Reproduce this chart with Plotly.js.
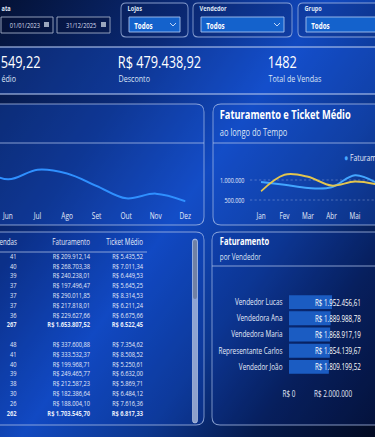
<!DOCTYPE html>
<html>
<head>
<meta charset="utf-8">
<script src="https://cdn.plot.ly/plotly-3.0.1.min.js"></script>
<style>
html,body{margin:0;padding:0;background:#061840;overflow:hidden;}
#wrap{position:relative;width:375px;height:437px;overflow:hidden;
background:
 linear-gradient(125deg,#041236 0%,#0a2a78 28%,#1149c0 48%,#0c368e 66%,#051a4c 82%,#020a22 100%);}
#chart{position:absolute;left:0;top:0;width:500px;height:437px;transform:scaleX(0.75);transform-origin:0 0;}
</style>
</head>
<body>
<div id="wrap"><div id="chart"></div></div>
<script>
// ---------- data ----------
const meses = ['Jan','Fev','Mar','Abr','Mai','Jun','Jul','Ago','Set','Out','Nov','Dez'];
const mesesEsq = ['Mai','Jun','Jul','Ago','Set','Out','Nov','Dez'];
const faturamentoMesEsq = [658, 574, 639, 613, 529, 445, 477, 426];
const mesesDir = ['Jan','Fev','Mar','Abr','Mai','Jun'];
const faturamentoMes = [950000, 880000, 800000, 820000, 1120000, 900000];
const ticketMes = [720000, 1130000, 1080000, 860000, 960000, 880000];
const vendedores = ['Vendedor Lucas','Vendedora Ana','Vendedora Maria','Representante Carlos','Vendedor João'];
const fatVendedor = [1952456.61, 1889988.78, 1868917.19, 1854139.67, 1809199.52];
const fatVendedorTxt = ['R$ 1.952.456,61','R$ 1.889.988,78','R$ 1.868.917,19','R$ 1.854.139,67','R$ 1.809.199,52'];
const tabHeader = ['endas','Faturamento','Ticket Médio'];
const vendasG1 = ['41','40','39','37','37','37','36','267'];
const fatG1 = ['R$ 209.912,14','R$ 268.703,38','R$ 240.238,01','R$ 197.496,47','R$ 290.011,85','R$ 217.818,01','R$ 229.627,66','R$ 1.653.807,52'];
const ticketG1 = ['R$ 5.435,52','R$ 7.011,34','R$ 6.449,53','R$ 5.645,25','R$ 8.314,53','R$ 6.211,24','R$ 6.675,66','R$ 6.522,45'];
const vendasG2 = ['48','41','40','39','38','30','26','262'];
const fatG2 = ['R$ 337.600,88','R$ 333.532,37','R$ 199.968,71','R$ 249.465,77','R$ 212.587,23','R$ 182.386,64','R$ 188.004,10','R$ 1.703.545,70'];
const ticketG2 = ['R$ 7.354,62','R$ 8.508,52','R$ 5.250,61','R$ 6.632,00','R$ 5.869,71','R$ 6.484,12','R$ 7.616,36','R$ 6.817,33'];
const kpiValores = ['549,22','R$ 479.438,92','1482'];
const kpiRotulos = ['édio','Desconto','Total de Vendas'];
const datas = ['01/01/2023','31/12/2025'];
const filtros = ['Lojas','Vendedor','Grupo'];
const filtroValor = ['Todos','Todos','Todos'];

// ---------- helpers ----------
const W=375,H=437;           // final (displayed) pixel grid
const PX=p=>p/W, PY=p=>1-p/H;
function rr(x0,y0,x1,y1,r){
  const a=v=>PX(v).toFixed(5), b=v=>PY(v).toFixed(5);
  return `M${a(x0+r)},${b(y0)} L${a(x1-r)},${b(y0)} Q${a(x1)},${b(y0)} ${a(x1)},${b(y0+r)} L${a(x1)},${b(y1-r)} Q${a(x1)},${b(y1)} ${a(x1-r)},${b(y1)} L${a(x0+r)},${b(y1)} Q${a(x0)},${b(y1)} ${a(x0)},${b(y1-r)} L${a(x0)},${b(y0+r)} Q${a(x0)},${b(y0)} ${a(x0+r)},${b(y0)} Z`;
}
function pshape(path,fill,line,lw){return {type:'path',xref:'paper',yref:'paper',path:path,fillcolor:fill,line:{color:line,width:lw===undefined?1.2:lw},layer:'below'};}
function hline(x0,x1,y,color,w){return {type:'line',xref:'paper',yref:'paper',x0:PX(x0),x1:PX(x1),y0:PY(y),y1:PY(y),line:{color:color,width:w||1.2},layer:'below'};}
function rect(x0,y0,x1,y1,fill,line,lw){return {type:'rect',xref:'paper',yref:'paper',x0:PX(x0),x1:PX(x1),y0:PY(y1),y1:PY(y0),fillcolor:fill,line:{color:line,width:lw===undefined?1:lw},layer:'below'};}
const FONT='"Open Sans", "Noto Sans", sans-serif';
function txt(x,y,t,size,color,bold,xa){return {xref:'paper',yref:'paper',x:PX(x),y:PY(y),text:bold?'<b>'+t+'</b>':t,showarrow:false,xanchor:xa||'left',yanchor:'middle',font:{family:FONT,size:size,color:color||'#ffffff'}};}

const border='rgba(175,195,235,0.75)';
const shapes=[];
shapes.push(rect(-5,47,380,94,'rgba(30,95,235,0.28)','rgba(0,0,0,0)',0));
shapes.push(hline(0,375,47,border,1.5));
shapes.push(hline(0,375,94,border,1.5));
shapes.push(pshape(rr(121,3,188,37,5),'rgba(10,30,90,0.25)',border));
shapes.push(pshape(rr(193,3,292,37,5),'rgba(10,30,90,0.25)',border));
shapes.push(pshape(rr(298,3,395,37,5),'rgba(10,30,90,0.25)',border));
shapes.push(rect(129,17,180,32,'#1462cc','#a8c4f0',1));
shapes.push(rect(201,17,284,32,'#1462cc','#a8c4f0',1));
shapes.push(rect(306,17,395,32,'#1462cc','#a8c4f0',1));
[[173,23],[277,23]].forEach(c=>{shapes.push({type:'path',xref:'paper',yref:'paper',path:`M${PX(c[0]-3)},${PY(c[1])} L${PX(c[0])},${PY(c[1]+3)} L${PX(c[0]+3)},${PY(c[1])}`,line:{color:'#dbe6fb',width:1}});});
shapes.push(rect(1,17,53,33,'rgba(5,15,50,0.35)','#a3afc8',1));
shapes.push(rect(57,17,110,33,'rgba(5,15,50,0.35)','#a3afc8',1));
shapes.push(rect(44,22,49,27,'#9aa6bd','rgba(0,0,0,0)',0));
shapes.push(rect(101,22,106,27,'#9aa6bd','rgba(0,0,0,0)',0));
shapes.push(pshape(rr(-10,104,204,225,8),'rgba(25,85,215,0.30)',border));
shapes.push(pshape(rr(213,104,395,225,8),'rgba(25,85,215,0.30)',border));
shapes.push(hline(-10,204,143,border,1.2));
shapes.push(hline(213,375,143,border,1.2));
shapes.push(pshape(rr(-10,232,204,425,8),'rgba(20,75,205,0.22)',border));
shapes.push(pshape(rr(212,232,395,425,8),'rgba(15,55,170,0.18)',border));
shapes.push(hline(212,375,266,border,1.2));
shapes.push(hline(0,147,252,'rgba(190,205,235,0.8)',1));
shapes.push(pshape(rr(192.5,239,197.5,423,2.5),'rgba(185,198,225,0.75)','rgba(210,220,240,0.8)',0.8));
shapes.push(pshape(rr(193,240,197,299,2),'rgba(110,125,160,0.9)','rgba(0,0,0,0)',0));

const ann=[];
ann.push(txt(0,8,'ata',7.5,'#dfe6f5',true));
ann.push(txt(25,25,datas[0],7.6,'#d5dced',false,'center'));
ann.push(txt(81,25,datas[1],7.6,'#d5dced',false,'center'));
[126,198,303].forEach((x,i)=>ann.push(txt(x,8,filtros[i],7.5,'#dfe6f5',true)));
[133,205,310].forEach((x,i)=>ann.push(txt(x,25,filtroValor[i],8.3,'#ffffff',true)));
[0,117,267].forEach((x,i)=>{ann.push(txt(x-1,61.5,kpiValores[i],17,'#ffffff'));ann.push(txt(x,79,kpiRotulos[i],9.5,'#dde5f5'));});
ann.push(txt(218,114,'Faturamento e Ticket Médio',12.4,'#ffffff',true));
ann.push(txt(218,132,'ao longo do Tempo',10,'#dde5f5'));
ann.push(txt(343,158,'<span style="color:#4aa8ff">●</span> Faturamento',9,'#e6eefc'));
ann.push(txt(218,241,'Faturamento',10,'#ffffff',true));
ann.push(txt(218,256,'por Vendedor',8.5,'#dde5f5'));
vendedores.forEach((v,i)=>ann.push({xref:'paper',yref:'y3',x:PX(362),y:v,text:fatVendedorTxt[i],showarrow:false,xanchor:'right',yanchor:'middle',font:{family:FONT,size:8.3,color:'#ffffff'}}));

// table rows: group 1 rows 0..7, blank row 8, group 2 rows 9..16
const rowsG1 = vendasG1.map((_,i)=>i);
const rowsG2 = vendasG2.map((_,i)=>i+vendasG1.length+1);
const linhas = rowsG1.concat(rowsG2);
const nTot = vendasG1.length-1;
const boldLast = arr=>arr.map((v,i)=>i===nTot?'<b>'+v+'</b>':v);
const colVendas = boldLast(vendasG1).concat(boldLast(vendasG2));
const colFat = boldLast(fatG1).concat(boldLast(fatG2));
const colTicket = boldLast(ticketG1).concat(boldLast(ticketG2));
const colX = [16.5, 90, 143];
const tabFont = {family:FONT,size:7.6,color:'#e3eaf8'};
function textCol(xpos,vals,rows){return {type:'scatter',mode:'text',x:vals.map(()=>xpos),y:rows,text:vals,textposition:'middle left',textfont:tabFont,xaxis:'x4',yaxis:'y4',cliponaxis:false,hoverinfo:'skip'};}

const traces=[
 {type:'scatter',mode:'lines',x:mesesEsq,y:faturamentoMesEsq,xaxis:'x',yaxis:'y',line:{color:'#2f90ff',width:2,shape:'spline',smoothing:1},hoverinfo:'skip'},
 {type:'scatter',mode:'lines',x:mesesDir,y:faturamentoMes,xaxis:'x2',yaxis:'y2',line:{color:'#43a6ff',width:2,shape:'spline',smoothing:1},hoverinfo:'skip'},
 {type:'scatter',mode:'lines',x:mesesDir,y:ticketMes,xaxis:'x2',yaxis:'y2',line:{color:'#e3c54e',width:2,shape:'spline',smoothing:1},hoverinfo:'skip'},
 {type:'bar',orientation:'h',x:fatVendedor,y:vendedores,xaxis:'x3',yaxis:'y3',marker:{color:'#1b5cc2'},hoverinfo:'skip'},
 textCol(colX[0],colVendas,linhas),
 textCol(colX[1],colFat,linhas),
 textCol(colX[2],colTicket,linhas),
 {type:'scatter',mode:'text',x:colX.map((v,i)=>i===0?v+0.5:v),y:tabHeader.map(()=>-1.45),text:tabHeader,textposition:'middle left',textfont:{family:FONT,size:8.3,color:'#e3eaf8'},xaxis:'x4',yaxis:'y4',cliponaxis:false,hoverinfo:'skip'}
];

const hid={visible:false,fixedrange:true};
const layout={
 width:500,height:H,margin:{l:0,r:0,t:0,b:0},paper_bgcolor:'rgba(0,0,0,0)',plot_bgcolor:'rgba(0,0,0,0)',
 showlegend:false,separators:',.',
 xaxis:{domain:[0,PX(204)],type:'category',categoryarray:meses,range:[4.731,11.633],showgrid:false,zeroline:false,showline:false,ticks:'outside',ticklen:3,tickcolor:'rgba(0,0,0,0)',tickfont:{family:FONT,size:8.7,color:'#e3eaf8'},fixedrange:true},
 yaxis:{domain:[PY(205),PY(146)],range:[400,800],visible:false,fixedrange:true},
 xaxis2:{domain:[PX(250),1],anchor:'y2',type:'category',categoryarray:meses,range:[-0.47,4.85],showgrid:false,zeroline:false,showline:false,ticks:'outside',ticklen:3,tickcolor:'rgba(0,0,0,0)',tickfont:{family:FONT,size:8.5,color:'#e3eaf8'},fixedrange:true},
 yaxis2:{domain:[PY(205),PY(150)],anchor:'x2',range:[375000,1750000],tickvals:[500000,1000000],tickformat:',d',showgrid:true,gridcolor:'rgba(220,230,255,0.35)',griddash:'dot',gridwidth:1,zeroline:false,showline:false,ticks:'outside',ticklen:5,tickcolor:'rgba(0,0,0,0)',tickfont:{family:FONT,size:7.2,color:'#e3eaf8'},fixedrange:true},
 xaxis3:{domain:[PX(289),1],anchor:'y3',range:[0,3905000],tickvals:[0,2000000],ticktext:['R$ 0','R$ 2.000.000'],showgrid:false,zeroline:false,showline:false,ticks:'outside',ticklen:11,tickcolor:'rgba(0,0,0,0)',tickfont:{family:FONT,size:8.5,color:'#e3eaf8'},fixedrange:true},
 yaxis3:{domain:[PY(375),PY(294)],anchor:'x3',type:'category',categoryarray:vendedores,autorange:'reversed',showgrid:false,zeroline:false,showline:false,ticks:'outside',ticklen:6,tickcolor:'rgba(0,0,0,0)',tickfont:{family:FONT,size:8.5,color:'#e3eaf8'},fixedrange:true},
 xaxis4:Object.assign({domain:[0,PX(150)],anchor:'y4',range:[0,150]},hid),
 yaxis4:Object.assign({domain:[PY(425),PY(236)],anchor:'x4',range:[(425-257)/9.8,(236-257)/9.8]},hid),
 bargap:0.14,
 shapes:shapes,annotations:ann
};
Plotly.newPlot('chart',traces,layout,{staticPlot:true,displayModeBar:false});
</script>
</body>
</html>
